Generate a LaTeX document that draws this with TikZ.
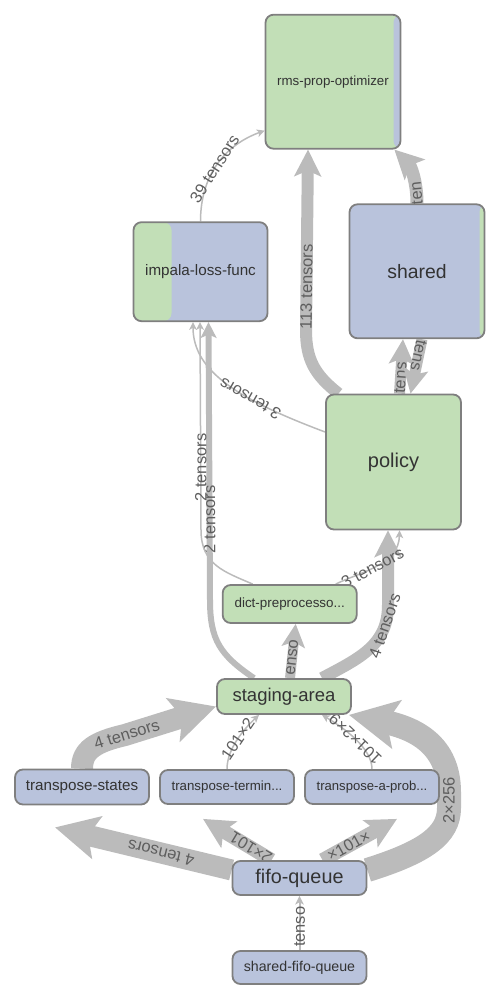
\documentclass[tikz,border=0pt]{standalone}
\usepackage{fontspec}
\setmainfont{Liberation Sans}
\usepackage{tikz}
\usetikzlibrary{arrows.meta, backgrounds, positioning}
\definecolor{nodegreen}{HTML}{C2DFB7}
\definecolor{nodeblue}{HTML}{B9C3DC}
\definecolor{nodeline}{HTML}{7F7F7F}
\definecolor{nodetext}{HTML}{333333}
\definecolor{edgegray}{HTML}{BBBBBB}
\definecolor{labelgray}{HTML}{5E5E5E}
\newcommand{\fsz}[1]{\fontsize{#1}{#1}\selectfont}
\tikzset{
	opnode/.style={draw=nodeline, line width=1.8pt, rounded corners=8pt, text=nodetext, inner sep=0pt}
}
\tikzset{
	greenop/.style={opnode, fill=nodegreen},
	blueop/.style={opnode, fill=nodeblue}
}
\tikzset{
	rightstripe/.style 2 args={path picture={\fill[#1] ([xshift=-#2]path picture bounding box.north east) rectangle (path picture bounding box.south east);}}
}
\tikzset{
	flow/.style={draw=edgegray, -{Stealth[length=5pt 1.8, width=5pt 1.8, inset=1.5pt 0.35]}},
	elabel/.style={font=\fsz{16.5}, text=labelgray, sloped, allow upside down, inner sep=0pt}
}

\begin{document}
\begin{tikzpicture}[x=1pt, y=-1pt]
  \useasboundingbox (0,0) rectangle (502,996);
  % operation boxes
  \node[greenop, minimum width=135pt, minimum height=134pt, font=\fsz{13.3}, rightstripe={nodeblue}{7pt}] (opt) at (333,81.7) {rms-prop-optimizer};
  \node[blueop, minimum width=134pt, minimum height=99pt, font=\fsz{15.2},
    path picture={\fill[nodegreen] (path picture bounding box.south west) rectangle ([xshift=38pt]path picture bounding box.north west);}] (loss) at (200.5,271.7) {impala-loss-func};
  \node[blueop, minimum width=135pt, minimum height=134pt, font=\fsz{19.4}, rightstripe={nodegreen}{5pt}] (shared) at (417,271.3) {shared};
  \node[greenop, minimum width=135pt, minimum height=135pt, font=\fsz{20}] (policy) at (393.5,462) {policy};
  \node[greenop, minimum width=134pt, minimum height=38pt, font=\fsz{13.4}] (dict) at (289.7,604) {dict-preprocesso...};
  \node[greenop, minimum width=134pt, minimum height=35pt, font=\fsz{18.5}] (staging) at (284,696.5) {staging-area};
  \node[blueop, minimum width=134pt, minimum height=35pt, font=\fsz{15.2}] (tstates) at (82,787) {transpose-states};
  \node[blueop, minimum width=134pt, minimum height=34pt, font=\fsz{13.3}] (tterm) at (227,787) {transpose-termin...};
  \node[blueop, minimum width=134pt, minimum height=34pt, font=\fsz{13.1}] (tprob) at (372,787) {transpose-a-prob...};
  \node[blueop, minimum width=134pt, minimum height=34pt, font=\fsz{19.8}] (fifo) at (299.5,878) {fifo-queue};
  \node[blueop, minimum width=134pt, minimum height=33pt, font=\fsz{14.2}] (sfifo) at (299.5,967.5) {shared-fifo-queue};
  % tensor flows
  \begin{scope}[on background layer]
    \draw[flow, line width=1.5pt] (loss.north) .. controls (200.5,175) and (225,145) .. node[elabel, pos=0.45] {39 tensors} ([yshift=19pt]opt.south west);
    \draw[flow, line width=12pt] ([xshift=-55pt]policy.north) .. controls (315,375) and (306,360) .. (306,330) -- node[elabel, pos=0.24] {113 tensors} ([xshift=-25pt]opt.south);
    \draw[flow, line width=13pt] (shared.north) .. controls (417,180) and (410,165) .. node[elabel, pos=0.15] {ten} ([xshift=-7pt]opt.south east);
    \draw[flow, line width=11pt] ([xshift=6pt]policy.north) -- node[elabel, pos=0.29] {tens} ([xshift=-14pt]shared.south);
    \draw[flow, line width=11pt] ([xshift=5pt]shared.south) -- node[elabel, pos=0.3] {tens} ([xshift=17pt]policy.north);
    \draw[flow, line width=1.5pt] ([yshift=30pt]policy.west) .. controls (240,400) and (193,372) .. node[elabel, pos=0.35] {3 tensors} ([xshift=-7.5pt]loss.south);
    \draw[flow, line width=6pt] ([xshift=-30pt]staging.north) .. controls (220,655) and (210,640) .. (210,600) -- node[elabel, pos=0.29] {2 tensors} ([xshift=8pt]loss.south);
    \draw[flow, line width=1.5pt] ([xshift=-37pt]dict.north) .. controls (225,572) and (201,565) .. (201,530) -- node[elabel, pos=0.3] {2 tensors} ([xshift=-0.5pt]loss.south);
    \draw[flow, line width=10pt] ([xshift=6pt]staging.north) -- node[elabel, pos=0.38] {enso} ([xshift=6pt]dict.south);
    \draw[flow, line width=12pt] ([xshift=38pt]staging.north) .. controls (360,658) and (388,645) .. node[elabel, pos=0.8] {4 tensors} (388,605) -- ([xshift=-5.5pt]policy.south);
    \draw[flow, line width=1.5pt] ([xshift=46pt]dict.north) .. controls (360,572) and (399,565) .. node[elabel, pos=0.45] {3 tensors} ([xshift=6pt]policy.south);
    \draw[flow, line width=22pt] (tstates.north) .. controls (82,750) and (95,742) .. (125,735) -- node[elabel, pos=0.02] {4 tensors} ([yshift=-10pt]staging.west);
    \draw[flow, line width=1.5pt] (tterm.north) .. controls (227,748) and (245,728) .. node[elabel, pos=0.5] {101×2} ([xshift=-25pt]staging.south);
    \draw[flow, line width=1.5pt] (tprob.north) .. controls (372,748) and (344,728) .. node[elabel, pos=0.5] {101×2×9} ([xshift=38pt]staging.south);
    \draw[flow, line width=24pt] ([yshift=8pt]fifo.east) .. controls (425,852) and (449,835) .. (449,808) -- node[elabel, pos=0.5] {2×256} (449,792) .. controls (449,745) and (415,728) .. ([xshift=-3pt]staging.south east);
    \draw[flow, line width=21pt] ([yshift=8pt]fifo.west) -- node[elabel, pos=0.4] {4 tensors} ([xshift=-27pt, yshift=-22pt]tstates.south);
    \draw[flow, line width=14pt] ([xshift=-28pt]fifo.north) -- node[elabel, pos=0.3] {2×101} ([xshift=-24pt, yshift=-14pt]tterm.south);
    \draw[flow, line width=14pt] ([xshift=23pt]fifo.north) -- node[elabel, pos=0.35] {×101×} ([xshift=25pt, yshift=-14pt]tprob.south);
    \draw[flow, line width=2pt] (sfifo.north) -- node[elabel, pos=0.43] {tenso} (fifo.south);
  \end{scope}
\end{tikzpicture}
\end{document}
